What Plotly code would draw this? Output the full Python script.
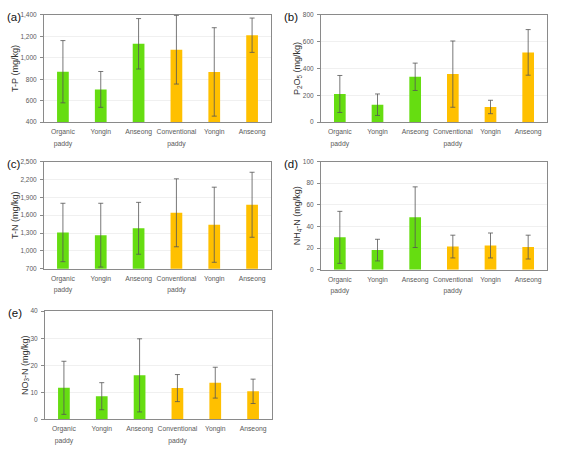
import plotly.graph_objects as go

categories = ["Organic<br>paddy", "Yongin", "Anseong", "Conventional<br>paddy", "Yongin", "Anseong"]
bar_colors = ["#66DD11", "#66DD11", "#66DD11", "#FFC000", "#FFC000", "#FFC000"]

tp_mean = [870, 705, 1130, 1075, 868, 1210]
tp_err = [290, 167, 235, 320, 412, 160]

p2o5_mean = [210, 130, 338, 358, 113, 520]
p2o5_err = [138, 80, 102, 247, 50, 170]

tn_mean = [1310, 1265, 1380, 1640, 1440, 1775]
tn_err = [490, 535, 435, 570, 630, 545]

nh4_mean = [30, 18.2, 48.6, 21.5, 22.5, 21]
nh4_err = [24, 10, 28, 10.5, 11.5, 11]

no3_mean = [11.7, 8.6, 16.3, 11.6, 13.6, 10.4]
no3_err = [9.8, 5, 13.5, 5, 5.7, 4.5]

panels = [
    ("(a)", "T-P (mg/kg)", tp_mean, tp_err, [400, 1400], 200, [44, 271], [11, 120]),
    ("(b)", "P<sub>2</sub>O<sub>5</sub> (mg/kg)", p2o5_mean, p2o5_err, [0, 800], 200, [321, 547], [11, 120]),
    ("(c)", "T-N (mg/kg)", tn_mean, tn_err, [700, 2500], 300, [44, 271], [160, 269]),
    ("(d)", "NH<sub>4</sub>-N (mg/kg)", nh4_mean, nh4_err, [0, 100], 20, [321, 547], [160, 270]),
    ("(e)", "NO<sub>3</sub>-N (mg/kg)", no3_mean, no3_err, [0, 40], 10, [45, 272], [312, 422]),
]

W, H = 561, 454
FONT = "Liberation Sans"
fig = go.Figure()
idx = list(range(len(categories)))
tick_text = ['<span style="font-size:6.8px">' + c + "</span>" for c in categories]

for i, (lab, ytitle, mean, err, yr, dt, xpx, ypx) in enumerate(panels):
    n = "" if i == 0 else str(i + 1)
    fig.add_trace(go.Bar(
        x=idx, y=mean, marker=dict(color=bar_colors, line=dict(width=0)),
        error_y=dict(type="data", array=err, visible=True, color="#555555", thickness=0.8, width=2.5),
        xaxis="x" + n, yaxis="y" + n, showlegend=False, width=0.31,
    ))
    xd = [xpx[0] / W, xpx[1] / W]
    yd = [1 - ypx[1] / H, 1 - ypx[0] / H]
    fmt = "," if yr[1] >= 1000 else ""
    fig.layout["xaxis" + n] = dict(
        domain=xd, anchor="y" + n, range=[-0.5, 5.5], tickvals=idx, ticktext=tick_text,
        showline=True, mirror=True, linecolor="#8a8a8a", linewidth=1, ticks="",
        showgrid=False, zeroline=False, tickfont=dict(size=9, color="#5a5a5a", family=FONT),
    )
    fig.layout["yaxis" + n] = dict(
        domain=yd, anchor="x" + n, range=yr, dtick=dt, tick0=yr[0], tickformat=fmt,
        showline=True, mirror=True, linecolor="#8a8a8a", linewidth=1,
        ticks="outside", ticklen=3, tickcolor="#8a8a8a", ticklabelstandoff=2,
        showgrid=True, gridcolor="#f0f0f0", gridwidth=1, zeroline=False,
        tickfont=dict(size=6.5, color="#5a5a5a", family=FONT),
        title=dict(text=ytitle, font=dict(size=9, color="#333333", family=FONT), standoff=0),
    )
    fig.add_annotation(
        text=lab, x=(xpx[0] - 39) / W, y=1 - (ypx[0] + 2) / H, xref="paper", yref="paper",
        xanchor="left", yanchor="middle", showarrow=False,
        font=dict(size=11.5, color="#111111", family=FONT),
    )

fig.update_layout(
    width=W, height=H, margin=dict(l=0, r=0, t=0, b=0),
    paper_bgcolor="white", plot_bgcolor="white", bargap=0.69,
)
fig.write_html("out.html", config={"displayModeBar": False},
               post_script="document.body.style.margin='0';")
